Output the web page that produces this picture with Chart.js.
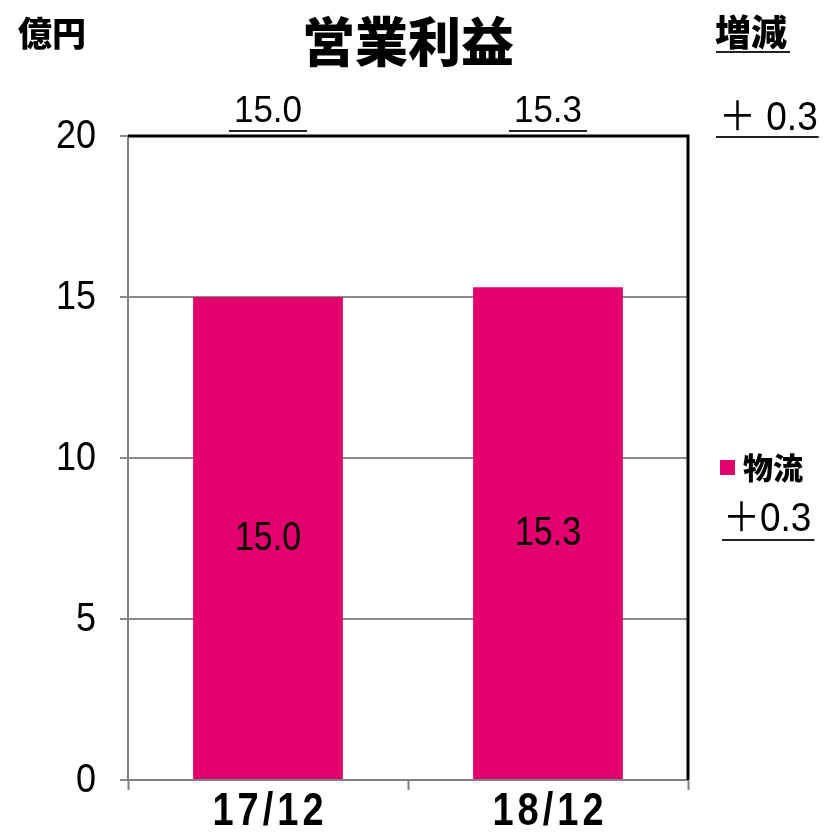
<!DOCTYPE html>
<html>
<head>
<meta charset="utf-8">
<script src="https://cdn.jsdelivr.net/npm/chart.js@4/dist/chart.umd.min.js"></script>
<style>
  body { margin: 0; background: #fff; }
  #wrap { width: 834px; height: 832px; }
</style>
</head>
<body>
<div id="wrap"><canvas id="barChart" width="834" height="832"></canvas></div>
<script>
// データ
const categories = ["17/12", "18/12"];
const profit = [15.0, 15.3];
const seriesName = "物流";
const yTicks = [0, 5, 10, 15, 20];
const totalLabels = ["15.0", "15.3"];
const changeTotal = "＋ 0.3";
const changeSeries = "＋0.3";

const barColor = "#E2006E";
const numFont = '"Liberation Sans", Arial, "Noto Sans CJK JP", sans-serif';
const jpFont = '"Noto Sans CJK JP", sans-serif';

// 縦長の数字を描く（元の図のフォントが縦長なので）
function stretchedText(ctx, text, x, y, font, align, sy, spacing) {
  ctx.save();
  ctx.font = font;
  ctx.letterSpacing = (spacing || 0) + "px";
  ctx.textAlign = align;
  ctx.textBaseline = "middle";
  ctx.fillStyle = "#000";
  ctx.translate(x, y);
  ctx.scale(1, sy);
  ctx.fillText(text, 0, 0);
  const w = ctx.measureText(text).width;
  ctx.restore();
  return w;
}

function underline(ctx, x0, x1, y) {
  ctx.save();
  ctx.strokeStyle = "#222";
  ctx.lineWidth = 2;
  ctx.beginPath();
  ctx.moveTo(x0, y);
  ctx.lineTo(x1, y);
  ctx.stroke();
  ctx.restore();
}

// 枠線・ラベル・注記の描画
const annotations = {
  id: "annotations",
  afterDatasetsDraw(chart) {
    const { ctx, chartArea, scales } = chart;
    const meta = chart.getDatasetMeta(0);
    ctx.save();

    // 上と右の黒い枠
    ctx.strokeStyle = "#000";
    ctx.lineWidth = 3;
    ctx.beginPath();
    ctx.moveTo(chartArea.left, chartArea.top);
    ctx.lineTo(chartArea.right, chartArea.top);
    ctx.lineTo(chartArea.right, chartArea.bottom);
    ctx.stroke();

    // 軸ラベル
    scales.y.ticks.forEach(t => {
      stretchedText(ctx, String(t.value), 96, scales.y.getPixelForValue(t.value) + 1,
        "36px " + numFont, "right", 1.15);
    });
    categories.forEach((c, i) => {
      stretchedText(ctx, c, scales.x.getPixelForValue(i) + 2, 812,
        "bold 38px " + numFont, "center", 1.22, 4);
    });

    // 棒の中のラベル
    meta.data.forEach((bar, i) => {
      stretchedText(ctx, profit[i].toFixed(1), bar.x, (bar.y + bar.base) / 2 + 1,
        "34px " + numFont, "center", 1.18);
    });

    // 棒の上の合計
    meta.data.forEach((bar, i) => {
      const cx = scales.x.getPixelForValue(i);
      const w = stretchedText(ctx, totalLabels[i], cx, 112, "35px " + numFont, "center", 1.08);
      underline(ctx, cx - w / 2 - 5, cx + w / 2 + 5, 131);
    });

    // タイトル・単位
    ctx.fillStyle = "#000";
    ctx.textBaseline = "alphabetic";
    ctx.textAlign = "center";
    ctx.font = "900 53px " + jpFont;
    ctx.fillText("営業利益", (chartArea.left + chartArea.right) / 2, 62);
    ctx.textAlign = "left";
    ctx.font = "900 34px " + jpFont;
    ctx.fillText("億円", 18, 46);

    ctx.font = "900 36px " + jpFont;
    ctx.fillText("増減", 715, 46);
    underline(ctx, 716, 790, 52);

    let w = stretchedText(ctx, changeTotal, 719, 119, "37px " + numFont, "left", 1.08);
    underline(ctx, 716, 720 + w, 137);

    // 凡例
    ctx.fillStyle = barColor;
    ctx.fillRect(720, 460, 15, 15);
    ctx.fillStyle = "#000";
    ctx.font = "900 30px " + jpFont;
    ctx.textAlign = "left";
    ctx.textBaseline = "alphabetic";
    ctx.fillText(seriesName, 743, 479);
    w = stretchedText(ctx, changeSeries, 723, 520, "37px " + numFont, "left", 1.08);
    underline(ctx, 722, 726 + w, 540);

    ctx.restore();
  }
};

const ctx = document.getElementById("barChart").getContext("2d");
new Chart(ctx, {
  type: "bar",
  data: {
    labels: categories,
    datasets: [{
      label: seriesName,
      data: profit,
      backgroundColor: barColor,
      borderWidth: 0,
      barPercentage: 0.535,
      categoryPercentage: 1
    }]
  },
  options: {
    responsive: false,
    devicePixelRatio: 1,
    animation: false,
    layout: { padding: { left: 0, top: 136, right: 146, bottom: 0 } },
    plugins: {
      legend: { display: false },
      title: { display: false },
      tooltip: { enabled: false }
    },
    scales: {
      x: {
        afterFit(scale) { scale.height = 52; },
        grid: {
          drawOnChartArea: false,
          drawTicks: true,
          tickLength: 10,
          tickColor: "#808080",
          tickWidth: 2
        },
        border: { color: "#808080", width: 2 },
        ticks: {
          color: "rgba(0,0,0,0)",
          padding: 2,
          font: { family: numFont, size: 38 }
        }
      },
      y: {
        min: 0,
        max: 20,
        afterFit(scale) { scale.width = 128; },
        afterBuildTicks(scale) { scale.ticks = yTicks.map(v => ({ value: v })); },
        grid: {
          color: "#8a8a8a",
          lineWidth: 2,
          tickLength: 8,
          tickColor: "#8a8a8a",
          tickWidth: 2
        },
        border: { color: "#808080", width: 2 },
        ticks: {
          color: "rgba(0,0,0,0)",
          padding: 24,
          font: { family: numFont, size: 36 }
        }
      }
    }
  },
  plugins: [annotations]
});
</script>
</body>
</html>
